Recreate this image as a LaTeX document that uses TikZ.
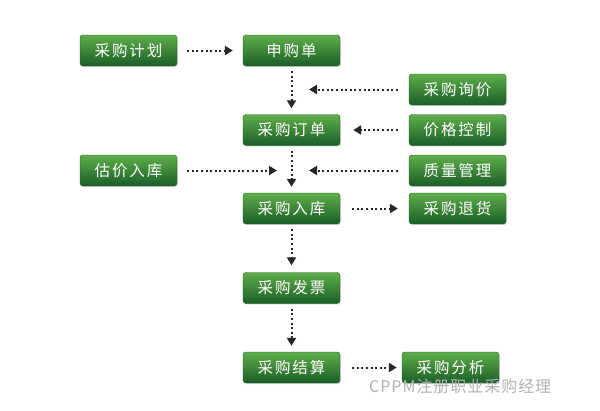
\documentclass[tikz,border=0pt]{standalone}
\usepackage{fontspec}
\newfontfamily\cjk[LetterSpace=12]{Noto Sans CJK SC}
\newfontfamily\cjkwm[LetterSpace=6]{Noto Sans CJK SC}
\usetikzlibrary{arrows.meta,shadows}
\definecolor{gtop}{HTML}{5FAE4A}
\definecolor{gbot}{HTML}{1A5E27}
\definecolor{gedge}{HTML}{1E5A25}
\tikzset{
  gbox/.style={rectangle, rounded corners=3pt, minimum width=97pt, minimum height=31pt,
    inner sep=0pt, top color=gtop, bottom color=gbot, draw=gedge, line width=0.4pt,
    drop shadow={shadow xshift=1pt, shadow yshift=-1.2pt, opacity=0.25},
    text=white, font=\cjk\fontsize{15.5pt}{17pt}\selectfont},
  dotarrow/.style={line width=2pt, dash pattern=on 2pt off 2.6pt, black!85,
    -{Triangle[length=8pt,width=9pt]}},
  wmark/.style={text=black!30, font=\cjkwm\fontsize{16pt}{17pt}\selectfont, inner sep=0pt},
}
\begin{document}
\begin{tikzpicture}[x=1pt,y=-1pt]
\useasboundingbox[fill=white] (0,0) rectangle (600,410);
\node[gbox] (plan) at (128.5,50.5) {采购计划};
\node[gbox] (req) at (291.5,50.5) {申购单};
\node[gbox] (order) at (291.5,130) {采购订单};
\node[gbox] (est) at (128.5,170.5) {估价入库};
\node[gbox] (inb) at (291.5,208.5) {采购入库};
\node[gbox] (inq) at (457.5,89.5) {采购询价};
\node[gbox] (price) at (457.5,130) {价格控制};
\node[gbox] (qual) at (457.5,170.5) {质量管理};
\node[gbox] (ret) at (457.5,208.5) {采购退货};
\node[gbox] (inv) at (291.5,288) {采购发票};
\node[gbox] (settle) at (291.5,367.5) {采购结算};
\node[gbox] (anal) at (450.5,367.5) {采购分析};
\coordinate (c1) at (309,89.5);
\coordinate (c2) at (277,170.5);
\coordinate (c3) at (309,170.5);
\draw[dotarrow, shorten <=10pt, shorten >=10pt] (plan.east) -- (req.west);
\draw[dotarrow, shorten <=5pt, shorten >=6pt] (req.south) -- (order.north);
\draw[dotarrow, shorten <=11pt] (inq.west) -- (c1);
\draw[dotarrow, shorten <=11pt, shorten >=13pt] (price.west) -- (order.east);
\draw[dotarrow, shorten <=5pt, shorten >=6pt] (order.south) -- (inb.north);
\draw[dotarrow, shorten <=10pt] (est.east) -- (c2);
\draw[dotarrow, shorten <=11pt] (qual.west) -- (c3);
\draw[dotarrow, shorten <=12pt, shorten >=11pt] (inb.east) -- (ret.west);
\draw[dotarrow, shorten <=5pt, shorten >=7pt] (inb.south) -- (inv.north);
\draw[dotarrow, shorten <=5pt, shorten >=6pt] (inv.south) -- (settle.north);
\draw[dotarrow, shorten <=12pt, shorten >=5pt] (settle.east) -- (anal.west);
\node[wmark, anchor=west] (wm) at (369,386) {CPPM注册职业采购经理};
\end{tikzpicture}
\end{document}
